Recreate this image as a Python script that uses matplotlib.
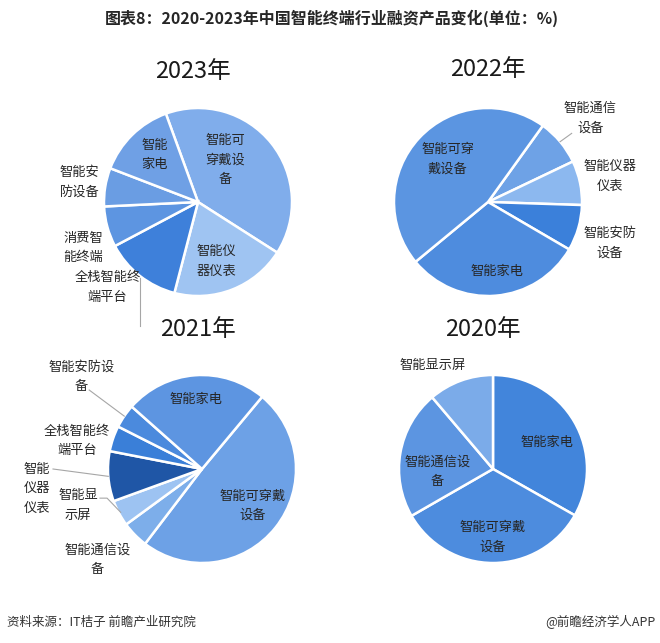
import numpy as np
import matplotlib.pyplot as plt

plt.rcParams['font.family'] = ['Noto Sans CJK SC', 'DejaVu Sans']

# ---- data (share of financing, %) ----
cats_2023  = ['智能可穿戴设备', '智能仪器仪表', '全栈智能终端平台', '消费智能终端', '智能安防设备', '智能家电']
share_2023 = [39.6, 20.0, 13.2, 7.0, 6.6, 13.6]

cats_2022  = ['智能通信设备', '智能仪器仪表', '智能安防设备', '智能家电', '智能可穿戴设备']
share_2022 = [8.0, 7.6, 7.9, 30.6, 45.9]

cats_2021  = ['智能可穿戴设备', '智能通信设备', '智能显示屏', '智能仪器仪表', '全栈智能终端平台', '智能安防设备', '智能家电']
share_2021 = [49.3, 4.6, 4.5, 8.6, 4.4, 4.1, 24.5]

cats_2020  = ['智能家电', '智能可穿戴设备', '智能通信设备', '智能显示屏']
share_2020 = [33.2, 33.5, 22.1, 11.2]

# ---- layout ----
W, H = 660, 643
R = 94      # pie radius, px
L = 1.6     # half axes span in radius units

colors_2023 = ['#80ADEB', '#9FC4F2', '#3E80DA', '#5D95E1', '#6A9DE3', '#6FA0E5']
colors_2022 = ['#6EA2E6', '#8CB8EF', '#3B80DA', '#4E8CDE', '#5B95E1']
colors_2021 = ['#6DA1E6', '#7DAEEA', '#9DC3F2', '#1F56A6', '#3A7FD8', '#4B8ADD', '#5D95E1']
colors_2020 = ['#4285DB', '#4D8CDE', '#5C95E1', '#7BABE9']

# display text and position (radius units, relative to pie centre)
text_2023 = {
    '智能可穿戴设备':   ('智能可\n穿戴设\n备', (0.29, 0.45)),
    '智能仪器仪表':     ('智能仪\n器仪表', (0.20, -0.63)),
    '全栈智能终端平台': ('全栈智能终\n端平台', (-0.96, -0.91)),
    '消费智能终端':     ('消费智\n能终端', (-1.22, -0.49)),
    '智能安防设备':     ('智能安\n防设备', (-1.26, 0.21)),
    '智能家电':         ('智能\n家电', (-0.46, 0.50)),
}
text_2022 = {
    '智能通信设备':   ('智能通信\n设备', (1.09, 0.89)),
    '智能仪器仪表':   ('智能仪器\n仪表', (1.30, 0.27)),
    '智能安防设备':   ('智能安防\n设备', (1.30, -0.44)),
    '智能家电':       ('智能家电', (0.10, -0.74)),
    '智能可穿戴设备': ('智能可穿\n戴设备', (-0.43, 0.45)),
}
text_2021 = {
    '智能可穿戴设备':   ('智能可穿戴\n设备', (0.54, -0.39)),
    '智能通信设备':     ('智能通信设\n备', (-1.11, -0.97)),
    '智能显示屏':       ('智能显\n示屏', (-1.32, -0.39)),
    '智能仪器仪表':     ('智能\n仪器\n仪表', (-1.76, -0.21)),
    '全栈智能终端平台': ('全栈智能终\n端平台', (-1.33, 0.30)),
    '智能安防设备':     ('智能安防设\n备', (-1.28, 0.98)),
    '智能家电':         ('智能家电', (-0.06, 0.74)),
}
text_2020 = {
    '智能家电':       ('智能家电', (0.57, 0.28)),
    '智能可穿戴设备': ('智能可穿戴\n设备', (0.0, -0.73)),
    '智能通信设备':   ('智能通信设\n备', (-0.59, -0.03)),
    '智能显示屏':     ('智能显示屏', (-0.64, 1.10)),
}

LBL = dict(fontsize=9.5, color='#262626', ha='center', va='center', linespacing=1.65)
LEADER = dict(color='#A6A6A6', lw=0.8)


def pie_axes(fig, cx, cy):
    side = 2 * L * R
    ax = fig.add_axes([(cx - side / 2) / W, (H - cy - side / 2) / H, side / W, side / H])
    ax.axis('off')
    return ax


def draw_pie(fig, cx, cy, year, cats, vals, colors, texts, start):
    ax = pie_axes(fig, cx, cy)
    wedges, _ = ax.pie(vals, colors=colors, startangle=start, counterclock=False,
                       radius=1.0, wedgeprops=dict(edgecolor='white', linewidth=1.8))
    ax.set_xlim(-L, L)
    ax.set_ylim(-L, L)
    ax.set_aspect('equal')
    for cat in cats:
        s, (x, y) = texts[cat]
        ax.text(x, y, s, **LBL)
    mids = {}
    for cat, w in zip(cats, wedges):
        a = np.deg2rad((w.theta1 + w.theta2) / 2)
        mids[cat] = (np.cos(a), np.sin(a))
    return ax, mids


fig = plt.figure(figsize=(W / 100, H / 100), dpi=100)
fig.patch.set_facecolor('white')

fig.text(332 / W, 1 - 18 / H, '图表8：2020-2023年中国智能终端行业融资产品变化(单位：%)',
         fontsize=11.5, fontweight='bold', color='#262626', ha='center', va='center')

# year titles
for x, y, s in [(193, 72, '2023年'), (488, 70, '2022年'), (198, 329, '2021年'), (483, 329, '2020年')]:
    fig.text(x / W, 1 - y / H, s, fontsize=17, color='#1a1a1a', ha='center', va='center')

# 2023
ax, mids = draw_pie(fig, 198, 202, '2023年', cats_2023, share_2023, colors_2023, text_2023, 110)
mx, my = mids['全栈智能终端平台']
ax.plot([mx, mx], [my, -1.32], zorder=0, **LEADER)

# 2022
ax, mids = draw_pie(fig, 488, 202, '2022年', cats_2022, share_2022, colors_2022, text_2022, 54.3)
mx, my = mids['智能通信设备']
ax.plot([mx, 0.89], [my, 0.73], **LEADER)

# 2021
ax, mids = draw_pie(fig, 202, 469, '2021年', cats_2021, share_2021, colors_2021, text_2021, 50.2)
mx, my = mids['智能安防设备']
ax.plot([-1.20, mx], [0.84, my], **LEADER)
mx, my = mids['智能仪器仪表']
ax.plot([-1.585, mx], [0.0, my], **LEADER)
mx, my = mids['智能显示屏']
ax.plot([-1.085, -1.01, mx * 0.98], [-0.31, -0.31, my * 0.98], **LEADER)

# 2020
draw_pie(fig, 493, 469, '2020年', cats_2020, share_2020, colors_2020, text_2020, 90)

fig.text(7 / W, 1 - 622 / H, '资料来源：IT桔子 前瞻产业研究院', fontsize=9, color='#333333',
         ha='left', va='center')
fig.text(656 / W, 1 - 622 / H, '@前瞻经济学人APP', fontsize=9, color='#333333',
         ha='right', va='center')

fig.savefig('out.png', dpi=100, facecolor='white')
